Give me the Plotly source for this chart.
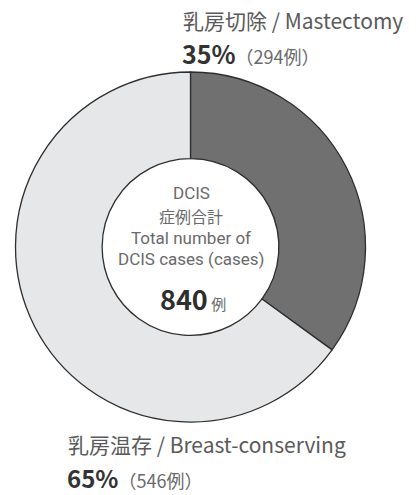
import plotly.graph_objects as go

labels = ["乳房切除 / Mastectomy", "乳房温存 / Breast-conserving"]
cases = [294, 546]
percents = ["35%", "65%"]
colors = ["#707070", "#e6e7e8"]
total = 840
center_lines = ["DCIS", "症例合計", "Total number of", "DCIS cases (cases)"]

W, H = 419, 495

def px(x):
    return x / W

def py(y):
    return 1 - y / H

fig = go.Figure(go.Pie(
    labels=labels,
    values=cases,
    sort=False,
    direction="clockwise",
    rotation=0,
    hole=0.505,
    marker=dict(colors=colors, line=dict(color="#2e2e2e", width=1.3)),
    textinfo="none",
    hoverinfo="label+value+percent",
    showlegend=False,
    domain=dict(x=[px(15), px(366)], y=[py(422), py(72)]),
))

CJK = "Noto Sans CJK JP, Noto Sans, sans-serif"
LAT = "Roboto, Noto Sans, sans-serif"
ann = []

def add(text, x, y, size, color, anchor="left", family=CJK):
    ann.append(dict(text=text, x=px(x), y=py(y), xref="paper", yref="paper",
                    xanchor=anchor, yanchor="middle", showarrow=False,
                    font=dict(family=family, size=size, color=color)))

# top label
add(labels[0], 181, 20, 21, "#5a5a5a")
add(f"<b>{percents[0]}</b><span style='font-size:18px;color:#6a6a6a'>（{cases[0]}例）</span>", 180, 53, 25, "#333333")
# bottom label
add(labels[1], 66, 444, 21, "#5a5a5a")
add(f"<b>{percents[1]}</b><span style='font-size:18px;color:#6a6a6a'>（{cases[1]}例）</span>", 65, 477, 24, "#333333")

# center text
cx = 191
add(center_lines[0], cx, 193, 17, "#6a6a6a", "center", LAT)
add(center_lines[1], cx, 216, 16, "#6a6a6a", "center")
add(center_lines[2], cx, 238, 17, "#6a6a6a", "center", LAT)
add(center_lines[3], cx, 259, 17, "#6a6a6a", "center", LAT)
add(f"<b>{total}</b><span style='font-size:15px;color:#6a6a6a'> 例</span>", cx + 2, 298, 27, "#2e2e2e", "center")

fig.update_layout(
    width=W, height=H,
    margin=dict(l=0, r=0, t=0, b=0),
    paper_bgcolor="white",
    plot_bgcolor="white",
    annotations=ann,
)

fig.write_html("out.html")
